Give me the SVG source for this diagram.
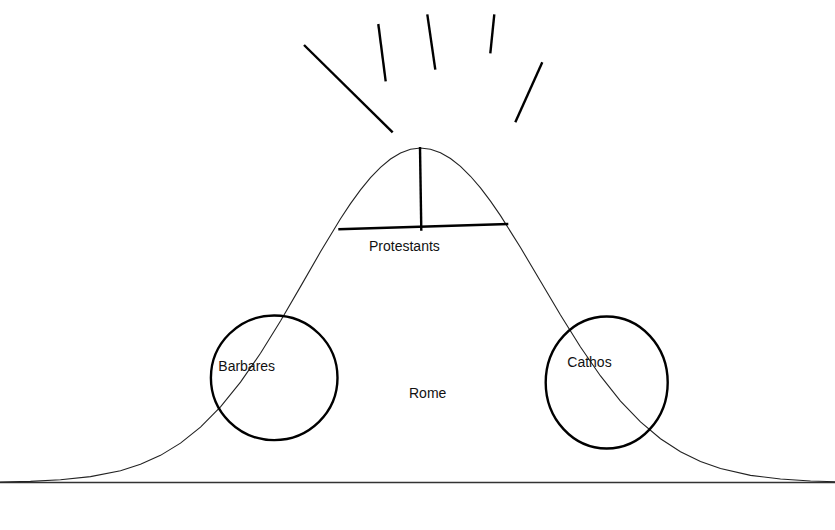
<svg xmlns="http://www.w3.org/2000/svg" width="835" height="530" viewBox="0 0 835 530">
<style>
.bold{stroke:#000;stroke-width:2.4;fill:none;stroke-linecap:butt}
.curve{stroke:#222;stroke-width:1.1;fill:none}
.lbl{font-family:"Liberation Sans",Arial,sans-serif;font-size:14px;fill:#111}
</style>
<rect width="835" height="530" fill="#fff"/>
<g id="axis">
<line x1="0" y1="482.5" x2="835" y2="482.5" stroke="#333" stroke-width="1.4"/>
</g>
<g id="bell">
<polyline class="curve" points="0,482.0 30.5,481.33 60.5,479.79 90.5,476.65 120.5,470.70 140.5,464.34 160.5,455.37 180.5,443.16 200.5,427.12 220.5,406.83 240.5,382.15 260.5,353.30 280.5,321.02 300.5,286.61 320.5,251.82 340.5,218.81 350.5,203.68 360.5,189.88 370.5,177.67 380.5,167.31 390.5,159.00 400.5,152.93 410.5,149.24 420.5,148 430.5,149.18 440.5,152.69 450.5,158.46 460.5,166.37 470.5,176.26 480.5,187.93 490.5,201.14 500.5,215.66 520.5,247.51 540.5,281.31 560.5,315.07 580.5,347.03 600.5,375.95 620.5,401.02 640.5,421.94 660.5,438.73 680.5,451.76 700.5,461.50 720.5,468.56 750.5,475.35 780.5,479.06 810.5,480.94 835,481.71"/>
</g>
<g id="rays">
<line class="bold" x1="304" y1="45" x2="392.7" y2="132.3"/>
<line class="bold" x1="378.3" y1="24" x2="385.7" y2="81.3"/>
<line class="bold" x1="427.3" y1="14.3" x2="435.3" y2="69.7"/>
<line class="bold" x1="494.3" y1="14.3" x2="490.3" y2="53.3"/>
<line class="bold" x1="542.3" y1="62.3" x2="515.3" y2="122.3"/>
</g>
<g id="protestants">
<line class="bold" x1="420" y1="147" x2="421.3" y2="230.7"/>
<line class="bold" x1="338.3" y1="229.3" x2="508.3" y2="224"/>
<text class="lbl" x="369" y="251">Protestants</text>
</g>
<g id="barbares">
<ellipse class="bold" cx="274.2" cy="377.8" rx="63.3" ry="62.3"/>
<text class="lbl" x="218.3" y="371">Barbares</text>
</g>
<g id="cathos">
<ellipse class="bold" cx="606.7" cy="382.5" rx="61" ry="66"/>
<text class="lbl" x="567.3" y="367">Cathos</text>
</g>
<g id="rome">
<text class="lbl" x="409" y="398">Rome</text>
</g>
</svg>
